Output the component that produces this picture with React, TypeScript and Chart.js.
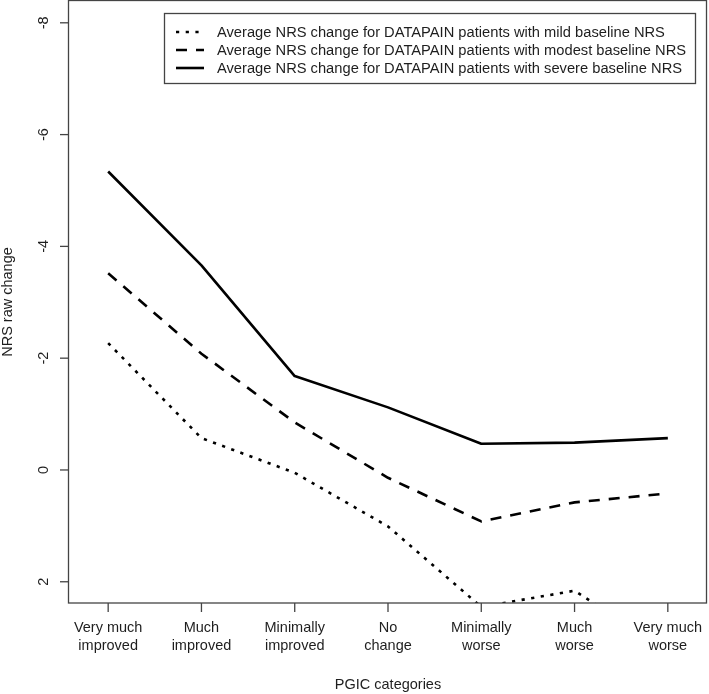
import React, { useEffect, useRef } from "react";
import { Chart, registerables } from "chart.js";

Chart.register(...registerables);

const categories: string[][] = [
  ["Very much", "improved"],
  ["Much", "improved"],
  ["Minimally", "improved"],
  ["No", "change"],
  ["Minimally", "worse"],
  ["Much", "worse"],
  ["Very much", "worse"],
];
const categoryPositions = [1, 2, 3, 4, 5, 6, 7];

const mildValues = [-2.27, -0.57, 0.05, 1.01, 2.45, 2.16, 3.25];
const modestValues = [-3.52, -2.08, -0.85, 0.14, 0.92, 0.58, 0.42];
const severeValues = [-5.34, -3.66, -1.68, -1.12, -0.47, -0.49, -0.57];

const seriesLabels = [
  "Average NRS change for DATAPAIN patients with mild baseline NRS",
  "Average NRS change for DATAPAIN patients with modest baseline NRS",
  "Average NRS change for DATAPAIN patients with severe baseline NRS",
];

const yTicks = [-8, -6, -4, -2, 0, 2];
const yTitle = "NRS raw change";
const xTitle = "PGIC categories";

const FONT = "'Liberation Sans', Arial, sans-serif";
const TEXT = "#1e1e1e";
const AXIS = "#444";

const toPoints = (vals: number[]) =>
  vals.map((v, i) => ({ x: categoryPositions[i], y: v }));

const rAxesPlugin = {
  id: "rAxes",
  afterDraw(chart: any) {
    const { ctx, chartArea } = chart;
    const xs = chart.scales.x;
    const ys = chart.scales.y;
    const { left, right, top, bottom } = chartArea;
    ctx.save();
    // box
    ctx.strokeStyle = AXIS;
    ctx.lineWidth = 1.3;
    ctx.strokeRect(left - 0.5, top - 0.5, right - left, bottom - top + 0.5);
    // y ticks
    ctx.fillStyle = TEXT;
    ctx.font = `14.5px ${FONT}`;
    yTicks.forEach((t) => {
      const y = ys.getPixelForValue(t);
      ctx.beginPath();
      ctx.moveTo(left - 9, y);
      ctx.lineTo(left, y);
      ctx.stroke();
      ctx.save();
      ctx.translate(44, y);
      ctx.rotate(-Math.PI / 2);
      ctx.textAlign = "center";
      ctx.textBaseline = "middle";
      ctx.fillText(String(t), 0, 0);
      ctx.restore();
    });
    // x ticks
    categoryPositions.forEach((p, i) => {
      const x = xs.getPixelForValue(p);
      ctx.beginPath();
      ctx.moveTo(x, bottom);
      ctx.lineTo(x, bottom + 9);
      ctx.stroke();
      ctx.textAlign = "center";
      ctx.textBaseline = "middle";
      categories[i].forEach((line, j) => {
        ctx.fillText(line, x, 628 + j * 18);
      });
    });
    // titles
    ctx.textAlign = "center";
    ctx.textBaseline = "middle";
    ctx.fillText(xTitle, (left + right) / 2, 685);
    ctx.save();
    ctx.translate(8, (top + bottom) / 2);
    ctx.rotate(-Math.PI / 2);
    ctx.fillText(yTitle, 0, 0);
    ctx.restore();
    // legend
    const lx = 164.5, ly = 13.5, lw = 531, lh = 70;
    ctx.fillStyle = "#fff";
    ctx.fillRect(lx, ly, lw, lh);
    ctx.strokeStyle = AXIS;
    ctx.lineWidth = 1.3;
    ctx.strokeRect(lx, ly, lw, lh);
    ctx.font = `14.7px ${FONT}`;
    chart.data.datasets.forEach((ds: any, i: number) => {
      const y = 32 + i * 18;
      ctx.save();
      ctx.strokeStyle = ds.borderColor;
      ctx.lineWidth = ds.borderWidth;
      ctx.setLineDash(ds.borderDash || []);
      ctx.beginPath();
      ctx.moveTo(176, y);
      ctx.lineTo(204, y);
      ctx.stroke();
      ctx.restore();
      ctx.fillStyle = TEXT;
      ctx.textAlign = "left";
      ctx.textBaseline = "middle";
      ctx.fillText(ds.label, 217, y + 1);
    });
    ctx.restore();
  },
};

export default function App() {
  const canvasRef = useRef<HTMLCanvasElement | null>(null);

  useEffect(() => {
    if (!canvasRef.current) return;
    const common = {
      borderColor: "#000",
      borderWidth: 2.6,
      pointRadius: 0,
      tension: 0,
      fill: false,
      clip: 0,
      borderJoinStyle: "round" as const,
    };
    const chart = new Chart(canvasRef.current, {
      type: "line",
      data: {
        datasets: [
          { ...common, label: seriesLabels[0], data: toPoints(mildValues), borderDash: [3.2, 6.5] },
          { ...common, label: seriesLabels[1], data: toPoints(modestValues), borderDash: [11, 9] },
          { ...common, label: seriesLabels[2], data: toPoints(severeValues) },
        ],
      },
      options: {
        animation: false,
        responsive: false,
        maintainAspectRatio: false,
        layout: { padding: { left: 69, right: 2, top: 1, bottom: 91 } },
        plugins: { legend: { display: false }, tooltip: { enabled: false } },
        scales: {
          x: { type: "linear", min: 0.58, max: 7.42, display: false },
          y: { type: "linear", reverse: true, min: -8.39, max: 2.38, display: false },
        },
      },
      plugins: [rAxesPlugin],
    });
    return () => chart.destroy();
  }, []);

  return (
    <div style={{ position: "absolute", left: 0, top: 0, width: 709, height: 694, background: "#fff" }}>
      <canvas ref={canvasRef} width={709} height={694} style={{ display: "block" }} />
    </div>
  );
}
